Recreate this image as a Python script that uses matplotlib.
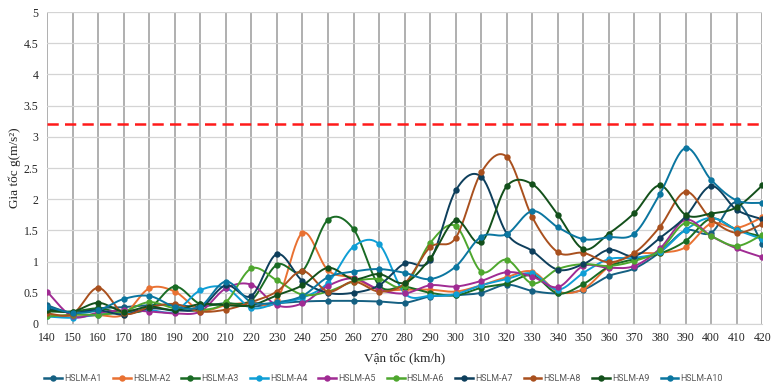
import numpy as np
import matplotlib
matplotlib.use("Agg")
import matplotlib.pyplot as plt
from matplotlib.lines import Line2D

# Train speed (km/h)
speeds = list(range(140, 430, 10))

# Peak deck acceleration for each HSLM train (m/s^2)
hslm_a1 = [0.30, 0.18, 0.25, 0.27, 0.30, 0.30, 0.28, 0.33, 0.28, 0.33, 0.36, 0.37, 0.37, 0.36, 0.34,
           0.44, 0.46, 0.50, 0.63, 0.53, 0.49, 0.55, 0.77, 0.89, 1.15, 1.50, 1.46, 1.95, 1.28]
hslm_a2 = [0.15, 0.12, 0.14, 0.15, 0.57, 0.52, 0.22, 0.30, 0.35, 0.38, 1.46, 0.86, 0.74, 0.55, 0.55,
           0.55, 0.52, 0.62, 0.75, 0.84, 0.52, 0.56, 0.92, 1.12, 1.14, 1.23, 1.61, 1.54, 1.71]
hslm_a3 = [0.20, 0.20, 0.25, 0.18, 0.25, 0.60, 0.32, 0.33, 0.38, 0.95, 0.85, 1.67, 1.52, 0.62, 0.60,
           0.50, 0.46, 0.58, 0.65, 0.78, 0.49, 0.64, 0.92, 1.04, 1.13, 1.33, 1.69, 1.51, 1.40]
hslm_a4 = [0.12, 0.10, 0.15, 0.18, 0.22, 0.20, 0.54, 0.58, 0.26, 0.33, 0.42, 0.66, 1.24, 1.28, 0.49,
           0.45, 0.48, 0.62, 0.72, 0.81, 0.55, 0.82, 1.04, 1.06, 1.16, 1.51, 1.70, 1.51, 1.36]
hslm_a5 = [0.52, 0.12, 0.18, 0.22, 0.20, 0.17, 0.20, 0.57, 0.63, 0.30, 0.33, 0.61, 0.73, 0.55, 0.49,
           0.62, 0.60, 0.69, 0.83, 0.76, 0.59, 0.93, 0.90, 0.93, 1.21, 1.67, 1.41, 1.21, 1.07]
hslm_a6 = [0.12, 0.15, 0.15, 0.20, 0.35, 0.25, 0.22, 0.35, 0.89, 0.70, 0.47, 0.52, 0.68, 0.72, 0.61,
           1.30, 1.57, 0.84, 1.03, 0.65, 0.88, 0.96, 0.93, 1.01, 1.18, 1.62, 1.41, 1.25, 1.43]
hslm_a7 = [0.25, 0.18, 0.22, 0.15, 0.25, 0.22, 0.25, 0.62, 0.45, 1.12, 0.69, 0.50, 0.50, 0.62, 0.97,
           1.02, 2.14, 2.36, 1.45, 1.17, 0.87, 0.96, 1.19, 1.09, 1.38, 1.72, 2.21, 1.83, 1.68]
hslm_a8 = [0.17, 0.16, 0.58, 0.17, 0.27, 0.32, 0.20, 0.23, 0.35, 0.52, 0.85, 0.52, 0.68, 0.52, 0.65,
           1.23, 1.38, 2.43, 2.68, 1.71, 1.15, 1.14, 0.99, 1.14, 1.56, 2.12, 1.68, 1.46, 1.60]
hslm_a9 = [0.22, 0.20, 0.34, 0.20, 0.28, 0.22, 0.32, 0.30, 0.30, 0.46, 0.62, 0.90, 0.72, 0.80, 0.66,
           1.05, 1.66, 1.31, 2.21, 2.24, 1.75, 1.20, 1.45, 1.78, 2.22, 1.75, 1.77, 1.87, 2.22]
hslm_a10 = [0.28, 0.18, 0.22, 0.40, 0.45, 0.28, 0.28, 0.68, 0.35, 0.35, 0.45, 0.75, 0.84, 0.88, 0.82,
            0.72, 0.92, 1.40, 1.44, 1.81, 1.55, 1.36, 1.39, 1.45, 2.09, 2.82, 2.31, 1.98, 1.94]

series_names = ["HSLM-A1", "HSLM-A2", "HSLM-A3", "HSLM-A4", "HSLM-A5",
                "HSLM-A6", "HSLM-A7", "HSLM-A8", "HSLM-A9", "HSLM-A10"]
series_values = [hslm_a1, hslm_a2, hslm_a3, hslm_a4, hslm_a5,
                 hslm_a6, hslm_a7, hslm_a8, hslm_a9, hslm_a10]
series_colors = ["#156082", "#E97132", "#196B24", "#0F9ED5", "#A02B93",
                 "#4EA72E", "#0E3F5C", "#A9501E", "#13501B", "#0B76A0"]

limit_value = 3.2  # comfort limit (m/s^2)


def smooth_curve(xs, ys, steps=24):
    """Cubic Bezier smoothing through every point (Catmull-Rom tangents)."""
    pts = np.column_stack([np.asarray(xs, float), np.asarray(ys, float)])
    n = len(pts)
    out = []
    for i in range(n - 1):
        p0 = pts[i - 1] if i > 0 else pts[i]
        p1, p2 = pts[i], pts[i + 1]
        p3 = pts[i + 2] if i + 2 < n else pts[i + 1]
        c1 = p1 + (p2 - p0) / 6.0
        c2 = p2 - (p3 - p1) / 6.0
        t = np.linspace(0, 1, steps, endpoint=(i == n - 2))[:, None]
        seg = ((1 - t) ** 3) * p1 + 3 * ((1 - t) ** 2) * t * c1 \
            + 3 * (1 - t) * (t ** 2) * c2 + (t ** 3) * p2
        out.append(seg)
    out = np.vstack(out)
    return out[:, 0], out[:, 1]


serif = ["Liberation Serif", "DejaVu Serif"]

fig = plt.figure(figsize=(7.72, 3.88), dpi=100)
ax = fig.add_axes([0.0609, 0.165, 0.9264, 0.804])

for name, vals, col in zip(series_names, series_values, series_colors):
    sx, sy = smooth_curve(speeds, vals)
    ax.plot(sx, sy, color=col, lw=1.4, solid_capstyle="round", zorder=3)
    ax.plot(speeds, vals, ls="none", marker="o", ms=4.6, color=col,
            markeredgewidth=0, zorder=4)

ax.plot([speeds[0], speeds[-1]], [limit_value, limit_value], color="#FF1A1A",
        lw=1.8, dashes=(4.5, 2.5), zorder=5)

ax.set_xlim(speeds[0], speeds[-1])
ax.set_ylim(0, 5)
ax.set_xticks(speeds)
ax.set_yticks(np.arange(0, 5.01, 0.5))
ax.set_yticklabels(["0", "0.5", "1", "1.5", "2", "2.5", "3", "3.5", "4", "4.5", "5"])
ax.tick_params(length=0, pad=6, labelsize=8.5, colors="#262626")
for lab in ax.get_xticklabels() + ax.get_yticklabels():
    lab.set_fontfamily(serif)

ax.grid(axis="y", color="#D4D4D4", lw=0.9, zorder=0)
ax.grid(axis="x", color="#9A9A9A", lw=1.1, zorder=0)
for s in ["top", "right", "left"]:
    ax.spines[s].set_visible(False)
ax.spines["bottom"].set_color("#D4D4D4")
ax.set_axisbelow(True)

ax.set_xlabel("Vận tốc (km/h)", family=serif, fontsize=9.5, color="#262626", labelpad=6)
ax.set_ylabel("Gia tốc g(m/s²)", family=serif, fontsize=9.5, color="#262626", labelpad=2)

handles = [Line2D([0], [0], color=c, lw=1.8, marker="o", ms=4.6, markeredgewidth=0)
           for c in series_colors]
leg = fig.legend(handles, series_names, loc="center", bbox_to_anchor=(0.497, 0.025),
                 ncol=10, frameon=False, fontsize=6.4, handlelength=2.0,
                 handletextpad=0.25, columnspacing=1.25)
for t in leg.get_texts():
    t.set_color("#595959")
    t.set_fontfamily(["Roboto", "DejaVu Sans"])

fig.savefig("out.png", dpi=100, facecolor="white")
